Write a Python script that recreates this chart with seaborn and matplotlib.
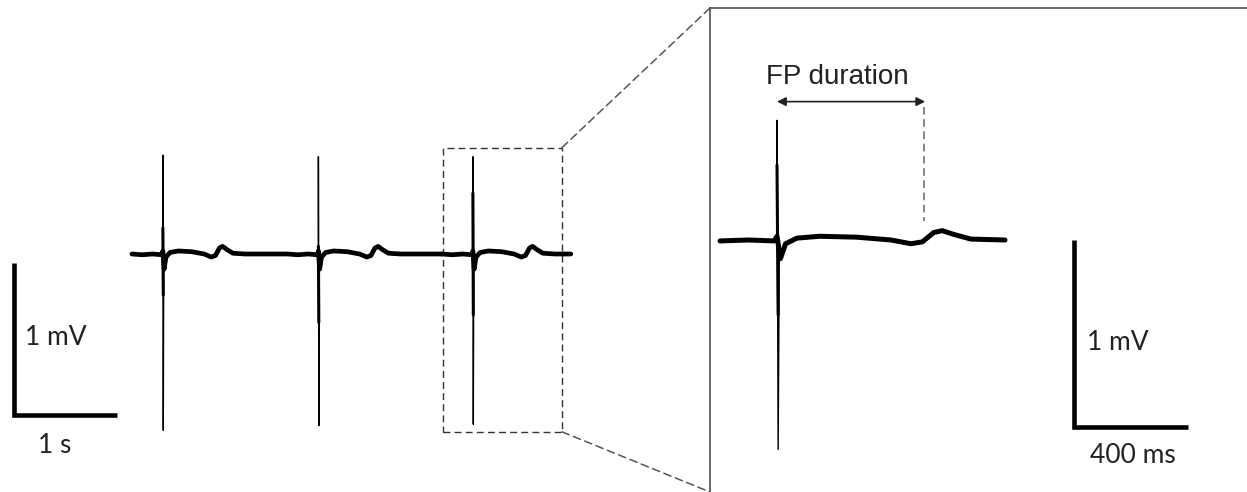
import numpy as np
import pandas as pd
import matplotlib
matplotlib.use("Agg")
import matplotlib.pyplot as plt
import seaborn as sns
from matplotlib.patches import Rectangle, ConnectionPatch

# ==============================================================
# Données
# ==============================================================

# temps des pics (s) et amplitudes (mV)
spike_t = [0.29, 1.80, 3.30]
spike_up = [0.65, 0.64, 0.64]
spike_down = [-1.16, -1.13, -1.12]
core_up = [0.17, 0.05, 0.40]
core_down = [-0.27, -0.45, -0.40]

# forme d'un battement : décalage par rapport au pic (s) et tension (mV)
beat_dt = [-0.30, -0.20, -0.10, -0.01, 0.0, 0.012, 0.03, 0.07, 0.15, 0.28,
           0.40, 0.47, 0.51, 0.55, 0.58, 0.62, 0.68, 0.80, 0.95, 1.20]
beat_mv = [0.0, -0.005, 0.0, -0.005, 0.02, -0.10, -0.02, 0.01, 0.02, 0.015,
           0.0, -0.02, -0.01, 0.04, 0.05, 0.03, 0.005, 0.0, 0.0, 0.0]

trace_end = 4.25
zoom_t = [3.09, 4.10]
box_t = [3.01, 4.165]
box_mv = [-1.17, 0.70]
fp_t = [3.30, 3.82]
fp_mv = 0.74
fp_base = 0.10

# ==============================================================
# Construction des tracés
# ==============================================================

rows = []
for i, ts in enumerate(spike_t):
    for dt, v in zip(beat_dt, beat_mv):
        rows.append((ts + dt, v, i))
trace = pd.DataFrame(rows, columns=["t", "mV", "beat"])
trace = trace[trace["t"] <= trace_end + 1e-9]

rows = []
core_rows = []
for i, ts in enumerate(spike_t):
    rows += [(ts, 0.02, i), (ts, spike_up[i], i), (ts + 0.004, spike_down[i], i),
             (ts + 0.008, -0.10, i)]
    core_rows += [(ts, core_up[i], i), (ts + 0.004, core_down[i], i)]
spikes = pd.DataFrame(rows, columns=["t", "mV", "beat"])
cores = pd.DataFrame(core_rows, columns=["t", "mV", "beat"])

sns.set_style("white")
plt.rcParams['font.family'] = ['Lato', 'DejaVu Sans']

fig = plt.figure(figsize=(12.47, 4.92), dpi=100)
ax_l = fig.add_axes([0, 0, 600 / 1247, 1])
ax_r = fig.add_axes([710 / 1247, 0, 537 / 1247, 484 / 492])


def draw_trace(ax, tr, sp, co, lw):
    sns.lineplot(data=tr, x="t", y="mV", units="beat", estimator=None, sort=False,
                 color="black", lw=lw, ax=ax)
    sns.lineplot(data=sp, x="t", y="mV", units="beat", estimator=None, sort=False,
                 color="black", lw=1.0, ax=ax)
    sns.lineplot(data=co, x="t", y="mV", units="beat", estimator=None, sort=False,
                 color="black", lw=2.2, ax=ax)


# --- panneau de gauche : enregistrement complet
draw_trace(ax_l, trace, spikes, cores, 3.4)
ax_l.set_xlim(-133 / 103, 467 / 103)
ax_l.set_ylim(-238 / 152, 254 / 152)
ax_l.axis("off")

ax_l.add_patch(Rectangle((box_t[0], box_mv[0]), box_t[1] - box_t[0], box_mv[1] - box_mv[0],
                         fill=False, ec="#333333", lw=1.0, ls=(0, (5, 3))))

# barre d'échelle gauche : 1 mV / 1 s
sx, sy = -1.16, -1.06
ax_l.plot([sx, sx, sx + 1.0], [sy + 1.0, sy, sy], color="black", lw=3.3,
          solid_joinstyle="miter", solid_capstyle="butt")
ax_l.text(sx + 0.11, sy + 0.51, "1 mV", fontsize=19, ha="left", va="center", color="#222222")
ax_l.text(sx + 0.40, sy - 0.20, "1 s", fontsize=19, ha="center", va="center", color="#222222")

# --- panneau de droite : agrandissement
zt = trace[(trace["t"] >= zoom_t[0]) & (trace["t"] <= zoom_t[1])]
zs = spikes[spikes["beat"] == 2]
zc = cores[cores["beat"] == 2]
draw_trace(ax_r, zt, zs, zc, 3.6)
ax_r.set_xlim(3.30 - 67 / 285, 3.30 + 470 / 285)
ax_r.set_ylim(-252 / 187, 232 / 187)
ax_r.set_xticks([])
ax_r.set_yticks([])
ax_r.set_xlabel("")
ax_r.set_ylabel("")
for side in ["right", "bottom"]:
    ax_r.spines[side].set_visible(False)
for side in ["left", "top"]:
    ax_r.spines[side].set_color("#444444")
    ax_r.spines[side].set_linewidth(1.1)

# durée du FP
ax_r.annotate("", xy=(fp_t[1], fp_mv), xytext=(fp_t[0], fp_mv),
              arrowprops=dict(arrowstyle="<|-|>", color="#222222", lw=1.2,
                              mutation_scale=13, shrinkA=0, shrinkB=0))
ax_r.plot([fp_t[1] - 0.004, fp_t[1] - 0.004], [fp_mv - 0.03, fp_base], color="#666666",
          lw=1.1, ls=(0, (5, 3)))
ax_r.text((fp_t[0] + fp_t[1]) / 2 - 0.05, fp_mv + 0.13, "FP duration", fontsize=20,
          ha="center", va="center", color="#222222", family=["Liberation Sans", "DejaVu Sans"])

# barre d'échelle droite : 1 mV / 400 ms
rx, ry = 4.342, -1.0
ax_r.plot([rx, rx, rx + 0.4], [ry + 1.0, ry, ry], color="black", lw=3.3,
          solid_joinstyle="miter", solid_capstyle="butt")
ax_r.text(rx + 0.045, ry + 0.45, "1 mV", fontsize=19, ha="left", va="center", color="#222222")
ax_r.text(rx + 0.205, ry - 0.155, "400 ms", fontsize=19, ha="center", va="center", color="#222222")

# lignes de liaison entre le cadre et l'agrandissement
for ya, yb in [(box_mv[1], 1), (box_mv[0], 0)]:
    con = ConnectionPatch(xyA=(box_t[1], ya), coordsA=ax_l.transData,
                          xyB=(0, yb), coordsB=ax_r.transAxes,
                          color="#555555", lw=1.1, ls=(0, (5, 3)))
    fig.add_artist(con)

fig.savefig("out.png", dpi=100)
